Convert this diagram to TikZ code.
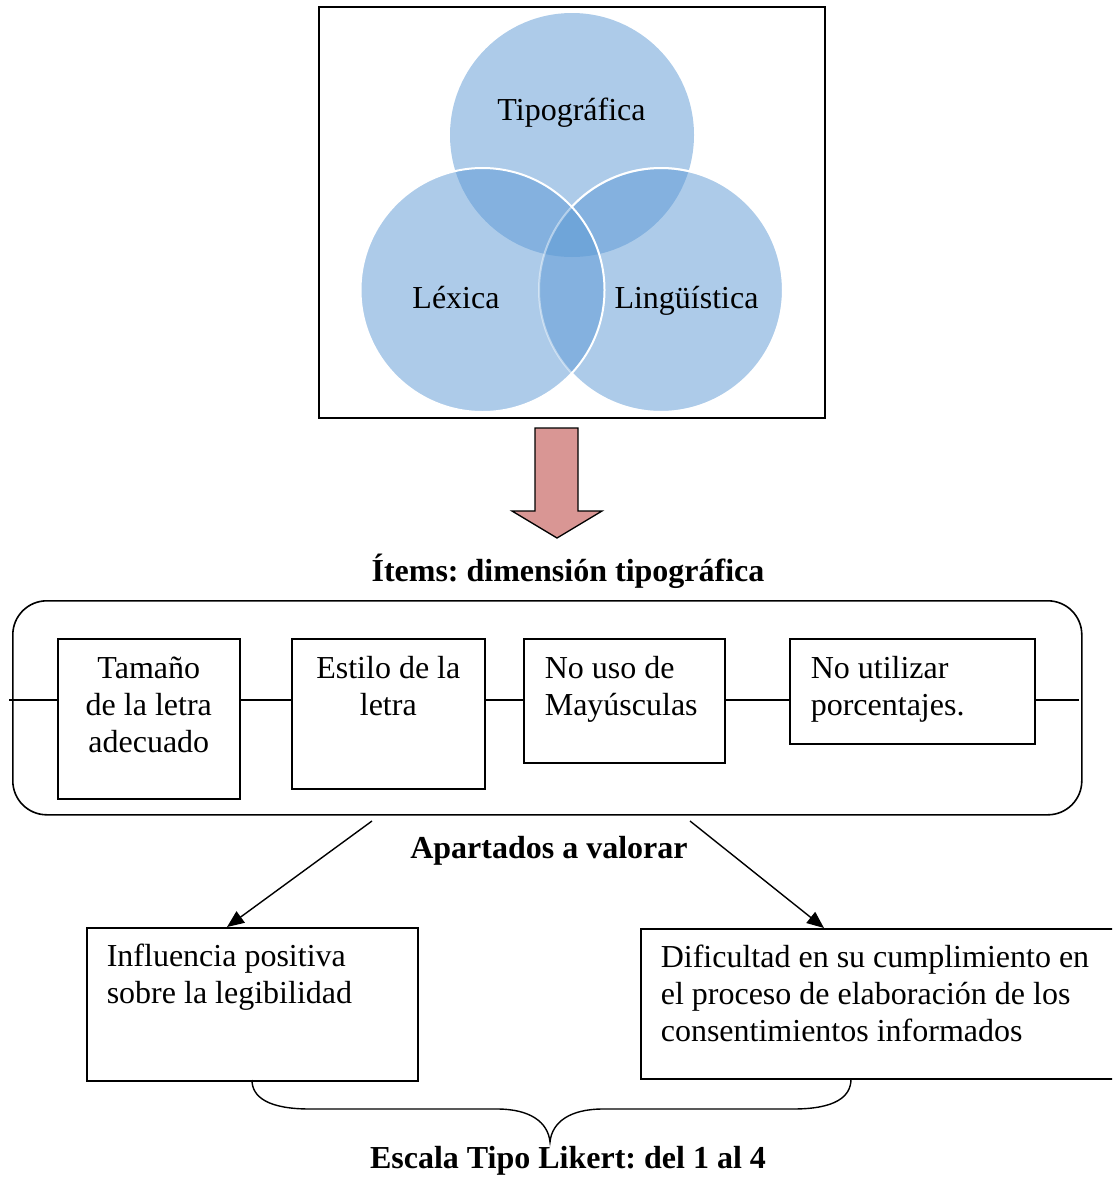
\documentclass[tikz,border=0pt]{standalone}
\usepackage{fontspec}
\setmainfont{Liberation Serif}
\usetikzlibrary{arrows.meta}
\frenchspacing

\definecolor{vennblue}{RGB}{91,152,212}
\definecolor{arrowrose}{RGB}{217,150,148}

\begin{document}
\begin{tikzpicture}[x=1pt,y=1pt,
  font=\fontsize{32}{37}\selectfont,
  frame/.style={draw=black, line width=1.6pt},
  item/.style={draw=black, line width=1.6pt, inner sep=0pt, anchor=north west},
  heading/.style={font=\fontsize{32}{37}\selectfont\bfseries, anchor=base, inner sep=0pt},
  setlabel/.style={anchor=base, inner sep=0pt},
  vennset/.style={fill=vennblue, fill opacity=0.5},
  rim/.style={draw=white, line width=2pt},
  link/.style={line width=1.4pt},
  pointer/.style={line width=1.4pt, -{Triangle[length=17pt,width=14pt]}},
]
\useasboundingbox (0,0) rectangle (1112,-1178);
\clip (0,0) rectangle (1112,-1178);

% ---- three-set Venn diagram in a frame ----
\draw[frame] (319,-7) rectangle (825,-418);
\coordinate (cT) at (572,-135);
\coordinate (cL) at (482.5,-290);
\coordinate (cR) at (661,-290);
\fill[vennset] (cT) circle (122);
\fill[vennset] (cL) circle (122);
\fill[vennset] (cR) circle (122);
\draw[rim, draw opacity=0.45] (cR) circle (122);
\draw[rim] (cL) circle (122);
\draw[rim] (cR) ++(137.3:122) arc[start angle=137.3, end angle=-137.3, radius=122];

\node[setlabel] (tipo) at (571.5,-120) {Tipográfica};
\node[setlabel] (lexica) at (456,-308) {Léxica};
\node[setlabel] (linguistica) at (686.5,-308) {Lingüística};

% ---- block arrow ----
\filldraw[fill=arrowrose, draw=black, line width=1.3pt]
  (535,-428) -- (578,-428) -- (578,-511) -- (602,-511) -- (557,-538)
  -- (512,-511) -- (535,-511) -- cycle;

\node[heading] (items) at (568,-581) {Ítems: dimensión tipográfica};

% ---- panel with the four items ----
\node[frame, rounded corners=34pt, inner sep=0pt, anchor=north west,
      minimum width=1069pt, minimum height=214pt] (panel) at (12,-600) {};

\node[item] (b1) at (57,-638)
  {\parbox[c][160pt][t]{182pt}{\centering\rule{0pt}{40pt}Tamaño\\ de la letra\\ adecuado}};
\node[item] (b2) at (291,-638)
  {\parbox[c][150pt][t]{193pt}{\centering\rule{0pt}{40pt}Estilo de la\\ letra}};
\node[item] (b3) at (523,-638)
  {\parbox[c][124pt][t]{201pt}{\raggedright\leftskip=21pt\rule{0pt}{40pt}No uso de\\ Mayúsculas}};
\node[item] (b4) at (789,-638)
  {\parbox[c][105pt][t]{245pt}{\raggedright\leftskip=21pt\rule{0pt}{40pt}No utilizar\\ porcentajes.}};

\coordinate (railL) at (9,-700);
\coordinate (railR) at (1079,-700);
\draw[link] (railL) -- (b1.west |- railL);
\draw[link] (b1.east |- railL) -- (b2.west |- railL);
\draw[link] (b2.east |- railL) -- (b3.west |- railL);
\draw[link] (b3.east |- railL) -- (b4.west |- railL);
\draw[link] (b4.east |- railL) -- (railR);

\node[heading] (apartados) at (549,-858) {Apartados a valorar};

% ---- the two rating aspects ----
\node[item] (bL) at (86,-927)
  {\parbox[c][153pt][t]{331pt}{\raggedright\leftskip=20pt\rule{0pt}{39pt}Influencia positiva\\ sobre la legibilidad}};
\node[item] (bR) at (640,-928)
  {\parbox[c][150pt][t]{480pt}{\raggedright\leftskip=20pt\rule{0pt}{39pt}Dificultad en su cumplimiento en\\ el proceso de elaboración de los\\ consentimientos informados}};

\coordinate (fromL) at (372,-821);
\coordinate (fromR) at (690,-821);
\coordinate (hitL) at (227,0);
\coordinate (hitR) at (824,0);
\draw[pointer] (fromL) -- (hitL |- bL.north);
\draw[pointer] (fromR) -- (hitR |- bR.north);

% ---- brace under both aspects ----
\coordinate (braceL) at (252,-1080);
\coordinate (braceR) at (851,-1079);
\coordinate (braceTip) at (550,-1142);
\draw[link]
  (braceL) .. controls (252,-1097) and (268,-1109) .. (310,-1109)
  -- (497,-1109) .. controls (530,-1109) and (548,-1122) .. (braceTip)
  .. controls (552,-1122) and (570,-1109) .. (603,-1109)
  -- (793,-1109) .. controls (835,-1109) and (851,-1097) .. (braceR);

\node[heading] (likert) at (568,-1168) {Escala Tipo Likert: del 1 al 4};
\end{tikzpicture}
\end{document}
